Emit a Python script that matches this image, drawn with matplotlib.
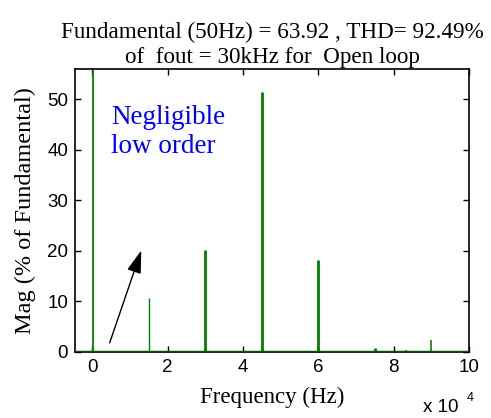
import numpy as np
import matplotlib
matplotlib.use('Agg')
import matplotlib.pyplot as plt

###############################################################################
# data:

freq_hz = [50, 15000, 30000, 45000, 60000, 75000, 83300, 90000]
mag_pct = [100.0, 10.6, 20.2, 51.4, 18.3, 0.8, 0.4, 2.4]
bar_lw = [1.3, 1.0, 2.0, 2.0, 2.0, 2.0, 1.2, 1.2]

x_ticks = [0, 20000, 40000, 60000, 80000, 100000]
x_ticklabels = ['0', '2', '4', '6', '8', '10']
y_ticks = [0, 10, 20, 30, 40, 50]

title = 'Fundamental (50Hz) = 63.92 , THD= 92.49%\nof  fout = 30kHz for  Open loop'
note = 'Negligible\nlow order'

###############################################################################
# plot:

serif = ['Liberation Serif', 'DejaVu Serif']
sans = ['Liberation Sans', 'DejaVu Sans']

fig = plt.figure(figsize=(4.91, 4.18), dpi=100)
ax = fig.add_axes([75/491, 66/418, (469-75)/491, (352-69)/418])

green = '#008000'
ax.vlines(freq_hz, 0, mag_pct, colors=green, linewidths=bar_lw, zorder=2)
ax.axhline(0, color='#005500', lw=2.5, zorder=3)

# limits:
ax.set_xlim(-4600, 100000)
ax.set_ylim(0, 56)

# ticks:
ax.set_xticks(x_ticks)
ax.set_xticklabels(x_ticklabels, fontsize=13.5, family=sans)
ax.set_yticks(y_ticks)
ax.set_yticklabels([str(t) for t in y_ticks], fontsize=13.5, family=sans)
ax.tick_params(direction='in', length=4, width=1, top=True, right=True, pad=5)
for sp in ax.spines.values():
    sp.set_linewidth(1.2)

# labels:
ax.set_title(title, fontsize=16.7, family=serif, linespacing=1.3, pad=4)
ax.set_xlabel('Frequency (Hz)', fontsize=16.5, family=serif, labelpad=8)
ax.set_ylabel('Mag (% of Fundamental)', fontsize=17.5, family=serif, labelpad=8)

ax.text(0.882, -0.197, 'x 10', transform=ax.transAxes, fontsize=13.5,
        family=sans, ha='left', va='center')
ax.text(0.995, -0.162, '4', transform=ax.transAxes, fontsize=9,
        family=sans, ha='left', va='center')

# annotation:
ax.text(5000, 48.8, note, fontsize=19.5, color='blue', family=serif,
        va='top', ha='left', linespacing=1.2)
ax.annotate('', xy=(13000, 20.1), xytext=(4600, 1.8),
            arrowprops=dict(arrowstyle='-|>,head_length=0.7,head_width=0.22',
                            color='k', lw=1.0, mutation_scale=20,
                            shrinkA=0, shrinkB=0))

plt.savefig('out.png', dpi=100)
plt.close('all')
